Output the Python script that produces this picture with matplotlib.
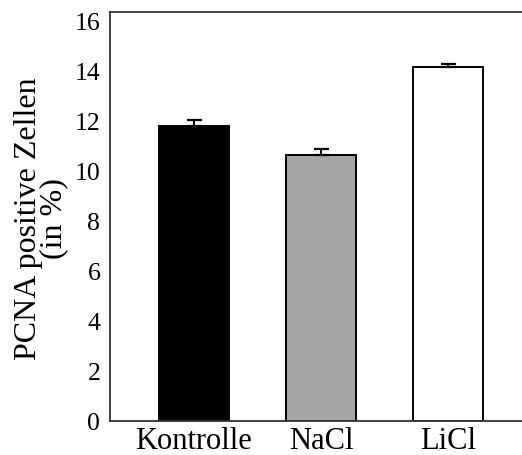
import matplotlib
matplotlib.use("Agg")
import matplotlib.pyplot as plt

# data
groups = ["Kontrolle", "NaCl", "LiCl"]
values = [11.8, 10.65, 14.17]
errors = [0.25, 0.24, 0.12]
colors = ["#000000", "#a6a6a6", "#ffffff"]
yticks = [0, 2, 4, 6, 8, 10, 12, 14, 16]

plt.rcParams["font.family"] = ["Liberation Serif", "DejaVu Serif"]

fig = plt.figure(figsize=(5.22, 4.55), dpi=100)
# axes runs past the right edge, like in the reference
ax = fig.add_axes([110 / 522, 34 / 455, 422 / 522, 409 / 455])

x = range(len(groups))
ax.bar(x, values, width=0.55, color=colors, edgecolor="black", linewidth=1.4, zorder=2)
ax.errorbar(x, values, yerr=[[0] * len(errors), errors], fmt="none",
            ecolor="black", elinewidth=1.4, capsize=5.4, capthick=1.6, zorder=3)

ax.set_xlim(-0.66, 2.66)
ax.set_ylim(0, 16.36)
ax.set_yticks(yticks)
ax.set_xticks(list(x))
ax.set_xticklabels(groups, fontsize=22)
ax.tick_params(axis="y", length=0, pad=7, labelsize=18.5)
ax.tick_params(axis="x", length=0, pad=4)

for s in ax.spines.values():
    s.set_color("#333333")
    s.set_linewidth(1.3)

ax.set_ylabel("PCNA positive Zellen\n(in %)", fontsize=23, linespacing=0.8)
ax.yaxis.set_label_coords(-0.1, 0.495)

fig.savefig("out.png", dpi=100)
